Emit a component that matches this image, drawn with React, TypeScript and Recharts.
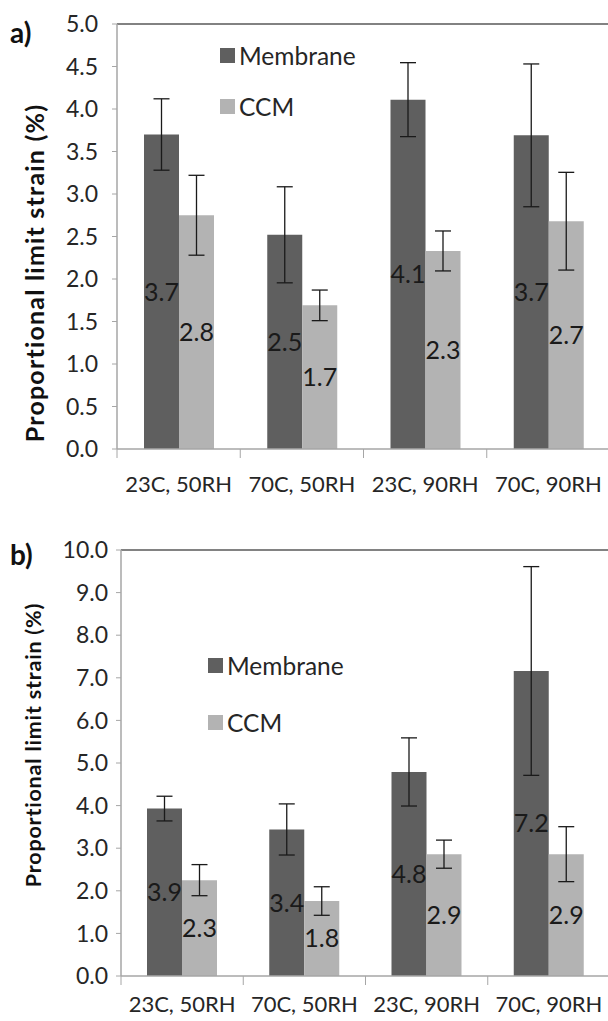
import React from 'react';
import { BarChart, Bar, XAxis, YAxis, ErrorBar, LabelList, Legend, ReferenceLine } from 'recharts';

const categories = ['23C, 50RH', '70C, 50RH', '23C, 90RH', '70C, 90RH'];
const seriesNames = ['Membrane', 'CCM'];

// panel a)
const membraneA = [3.7, 2.52, 4.11, 3.69];
const membraneErrA = [0.42, 0.565, 0.435, 0.84];
const ccmA = [2.75, 1.69, 2.33, 2.68];
const ccmErrA = [0.47, 0.18, 0.235, 0.575];
const ticksA = [0, 0.5, 1, 1.5, 2, 2.5, 3, 3.5, 4, 4.5, 5];

// panel b)
const membraneB = [3.93, 3.44, 4.79, 7.16];
const membraneErrB = [0.29, 0.6, 0.8, 2.45];
const ccmB = [2.25, 1.76, 2.86, 2.86];
const ccmErrB = [0.365, 0.335, 0.33, 0.645];
const ticksB = [0, 1, 2, 3, 4, 5, 6, 7, 8, 9, 10];

const DARK = '#5f5f5f';
const LIGHT = '#b3b3b3';
const AXIS = '#a6a6a6';
const TEXT = '#262626';
const FONT = 'Lato';
const Y_TITLE = 'Proportional limit strain (%)';

const buildRows = (m: number[], me: number[], c: number[], ce: number[]) =>
    categories.map((name, i) => ({ name, membrane: m[i], membraneErr: me[i], ccm: c[i], ccmErr: ce[i] }));

const rowsA = buildRows(membraneA, membraneErrA, ccmA, ccmErrA);
const rowsB = buildRows(membraneB, membraneErrB, ccmB, ccmErrB);

function CatTick(props: any) {
    const { x, y, payload, index, half, count, labelDy } = props;
    return (
        <g>
            <line x1={x - half} x2={x - half} y1={y} y2={y + 9} stroke={AXIS} />
            {index === count - 1 && <line x1={x + half} x2={x + half} y1={y} y2={y + 9} stroke={AXIS} />}
            <text x={x} y={y + labelDy} textAnchor="middle" dominantBaseline="central"
                style={{ fontFamily: FONT, fontSize: 22, fill: TEXT }}>
                {payload.value}
            </text>
        </g>
    );
}

interface PanelProps {
    rows: typeof rowsA;
    ticks: number[];
    width: number;
    height: number;
    top: number;
    marginTop: number;
    axisWidth: number;
    xAxisHeight: number;
    labelDy: number;
    tickMargin: number;
    letter: string;
    letterY: number;
    titleX: number;
    titleY: number;
    titleSize: number;
    titleSpacing: number;
    legendLeft: number;
    legendTop: number;
    legendRow: number;
}

function Panel(p: PanelProps) {
    const max = p.ticks[p.ticks.length - 1];
    const half = (p.width - p.axisWidth) / categories.length / 2;

    const renderLegend = (props: any) => {
        const items = [...props.payload].sort(
            (a: any, b: any) => seriesNames.indexOf(a.value) - seriesNames.indexOf(b.value));
        return (
            <div style={{ fontFamily: FONT, fontSize: 24.5, color: TEXT }}>
                {items.map((e: any) => (
                    <div key={e.value} style={{ height: p.legendRow, display: 'flex', alignItems: 'center' }}>
                        <span style={{ width: 15, height: 15, background: e.color, marginRight: 4, display: 'inline-block' }} />
                        <span>{e.value}</span>
                    </div>
                ))}
            </div>
        );
    };

    const renderTitle = () => (
        <g>
            <text x={10} y={p.letterY} style={{ fontFamily: FONT, fontSize: 28, fontWeight: 700, fill: '#111' }}>{p.letter}</text>
            <text transform={`translate(${p.titleX},${p.titleY}) rotate(-90)`} textAnchor="middle" dominantBaseline="central"
                style={{ fontFamily: FONT, fontSize: p.titleSize, fontWeight: 700, fill: '#111', letterSpacing: p.titleSpacing }}>
                {Y_TITLE}
            </text>
        </g>
    );

    return (
        <div style={{ position: 'absolute', left: 0, top: p.top }}>
            <BarChart width={p.width} height={p.height} data={p.rows} barSize={35} barGap={0}
                margin={{ top: p.marginTop, right: 0, bottom: 0, left: 0 }}>
                <XAxis dataKey="name" interval={0} height={p.xAxisHeight} tickSize={0} tickMargin={0}
                    axisLine={{ stroke: AXIS, strokeWidth: 1.5 }} tickLine={false}
                    tick={(t: any) => <CatTick {...t} half={half} count={categories.length} labelDy={p.labelDy} />} />
                <YAxis width={p.axisWidth} domain={[0, max]} ticks={p.ticks} tickSize={5} tickMargin={p.tickMargin}
                    tickFormatter={(v: number) => v.toFixed(1)} axisLine={{ stroke: AXIS, strokeWidth: 1.5 }}
                    tickLine={{ stroke: AXIS }} tick={{ fontFamily: FONT, fontSize: 23, fill: TEXT }}
                    label={renderTitle} />
                <ReferenceLine y={max} stroke="#595959" strokeWidth={1.5} />
                <Legend layout="vertical" align="center" verticalAlign="middle" content={renderLegend}
                    wrapperStyle={{ left: p.legendLeft, top: p.legendTop, width: 'auto' }} />
                <Bar dataKey="membrane" name="Membrane" fill={DARK} isAnimationActive={false}>
                    <ErrorBar dataKey="membraneErr" width={8} stroke="#1a1a1a" strokeWidth={1.3} />
                    <LabelList dataKey="membrane" position="center" formatter={(v: any) => Number(v).toFixed(1)}
                        style={{ fontFamily: FONT, fontSize: 25, fill: '#1a1a1a' }} />
                </Bar>
                <Bar dataKey="ccm" name="CCM" fill={LIGHT} isAnimationActive={false}>
                    <ErrorBar dataKey="ccmErr" width={8} stroke="#1a1a1a" strokeWidth={1.3} />
                    <LabelList dataKey="ccm" position="center" formatter={(v: any) => Number(v).toFixed(1)}
                        style={{ fontFamily: FONT, fontSize: 25, fill: '#1a1a1a' }} />
                </Bar>
            </BarChart>
        </div>
    );
}

export default function App() {
    return (
        <div style={{ position: 'absolute', left: 0, top: 0, width: 608, height: 1021, overflow: 'hidden', background: '#fff' }}>
            <Panel rows={rowsA} ticks={ticksA} width={610} height={508} top={0} marginTop={24} axisWidth={117}
                xAxisHeight={59} labelDy={34} tickMargin={14} letter="a)" letterY={43} titleX={34} titleY={273}
                titleSize={25} titleSpacing={1.2} legendLeft={220} legendTop={30} legendRow={51} />
            <Panel rows={rowsB} ticks={ticksB} width={610} height={513} top={508} marginTop={42} axisWidth={121}
                xAxisHeight={45} labelDy={27} tickMargin={8} letter="b)" letterY={57} titleX={33} titleY={237}
                titleSize={21.5} titleSpacing={0.8} legendLeft={208} legendTop={129} legendRow={57} />
        </div>
    );
}
